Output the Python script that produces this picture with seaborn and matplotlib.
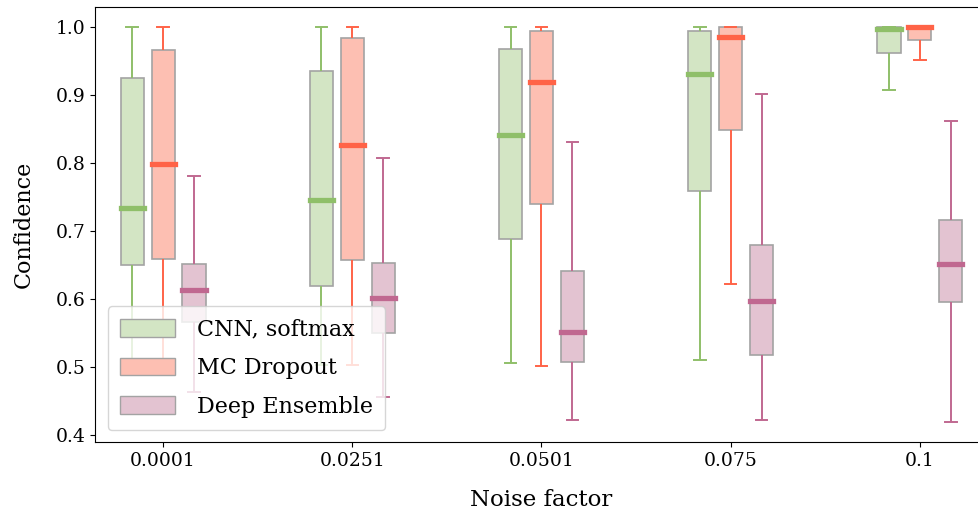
import numpy as np
import pandas as pd
import matplotlib
matplotlib.use("Agg")
import matplotlib.pyplot as plt
import seaborn as sns
from matplotlib.patches import Patch

noise_labels = ["0.0001", "0.0251", "0.0501", "0.075", "0.1"]
models = ["CNN, softmax", "MC Dropout", "Deep Ensemble"]

# five-number summaries [min, q1, median, q3, max] per noise level
cnn_stats = [
    [0.501, 0.650, 0.733, 0.925, 1.000],
    [0.503, 0.619, 0.745, 0.935, 1.000],
    [0.505, 0.687, 0.840, 0.967, 1.000],
    [0.509, 0.759, 0.931, 0.993, 1.000],
    [0.907, 0.962, 0.996, 0.999, 1.000],
]
mc_stats = [
    [0.508, 0.658, 0.798, 0.966, 1.000],
    [0.502, 0.657, 0.826, 0.983, 1.000],
    [0.501, 0.739, 0.919, 0.993, 1.000],
    [0.621, 0.848, 0.985, 0.999, 1.000],
    [0.951, 0.980, 0.999, 1.000, 1.000],
]
de_stats = [
    [0.462, 0.565, 0.613, 0.651, 0.781],
    [0.455, 0.550, 0.601, 0.652, 0.807],
    [0.422, 0.506, 0.551, 0.640, 0.830],
    [0.421, 0.517, 0.597, 0.679, 0.901],
    [0.418, 0.595, 0.651, 0.716, 0.861],
]

fill_colors = ["#d3e5c4", "#fdbfb2", "#e3c3d1"]
line_colors = ["#8fbf69", "#ff6347", "#c06890"]
edge_gray = "#a3a3a3"

rows = []
for i, n in enumerate(noise_labels):
    for m, stats in zip(models, [cnn_stats, mc_stats, de_stats]):
        for v in stats[i]:
            rows.append({"Noise factor": n, "Confidence": v, "Model": m})
df = pd.DataFrame(rows)

plt.rcParams["font.family"] = ["DejaVu Serif"]

fig = plt.figure(figsize=(9.79, 5.17), dpi=100)
ax = fig.add_axes([95 / 979, 75 / 517, 893 / 979, 435 / 517])

sns.boxplot(
    data=df, x="Noise factor", y="Confidence", hue="Model",
    order=noise_labels, hue_order=models,
    palette=dict(zip(models, fill_colors)), saturation=1,
    whis=(0, 100), width=0.49, gap=0.25,
    linecolor=edge_gray, linewidth=1.2, fliersize=0,
    medianprops=dict(linewidth=3.8, solid_capstyle="projecting"),
    legend=False, ax=ax,
)

for k, cont in enumerate(ax.containers):
    lc = line_colors[k]
    for ln in list(cont.whiskers) + list(cont.caps):
        ln.set_color(lc)
        ln.set_linewidth(1.4)
    for ln in cont.medians:
        ln.set_color(lc)
        ln.set_zorder(3)
    for b in cont.boxes:
        b.set_edgecolor(edge_gray)

ax.set_xlim(-0.36, 4.36)
ax.set_ylim(0.389, 1.029)
ax.set_yticks([0.4, 0.5, 0.6, 0.7, 0.8, 0.9, 1.0])
ax.tick_params(labelsize=13.5)
ax.set_xlabel("Noise factor", fontsize=16.5, labelpad=14)
ax.set_ylabel("Confidence", fontsize=16, labelpad=15)

handles = [Patch(facecolor=fc, edgecolor=edge_gray, linewidth=1.0) for fc in fill_colors]
ax.legend(handles, models, loc="lower left", bbox_to_anchor=(0.0146, 0.0276),
          borderaxespad=0, fontsize=16, handlelength=2.45, handleheight=0.85,
          handletextpad=1.0, labelspacing=0.75, borderpad=0.55,
          edgecolor="#cccccc", framealpha=0.8)

fig.savefig("out.png", dpi=100)
